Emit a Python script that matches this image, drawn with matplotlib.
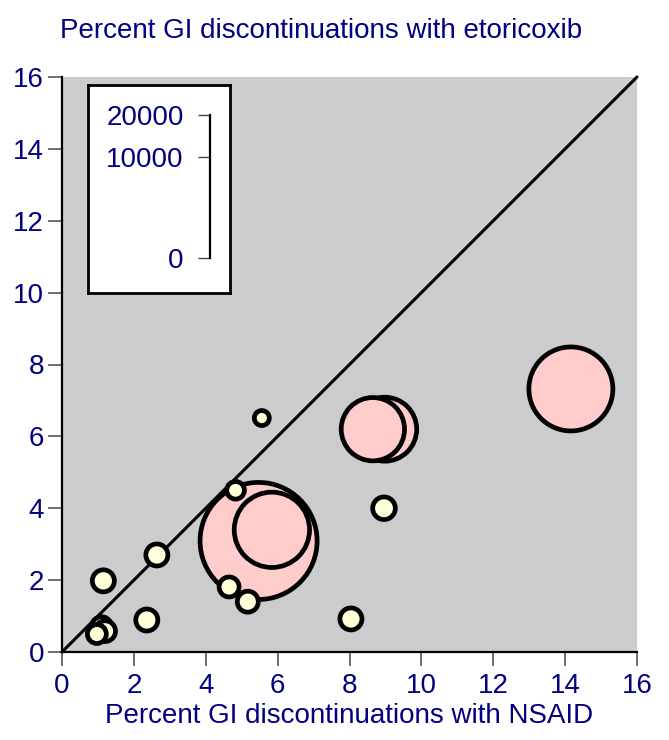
import numpy as np
import matplotlib
matplotlib.use("Agg")
import matplotlib.pyplot as plt
from matplotlib.patches import Circle

plt.rcParams['font.family'] = ['Liberation Sans', 'DejaVu Sans']

# trial data: % GI discontinuations (NSAID vs etoricoxib), patients per trial
nsaid = [5.47, 5.84, 8.98, 8.65, 14.16,
         5.56, 4.83, 4.65, 5.17, 8.96, 8.04, 2.64, 1.15, 2.36, 1.10, 1.20, 0.97]
etori = [3.09, 3.40, 6.20, 6.20, 7.32,
         6.51, 4.50, 1.81, 1.40, 4.00, 0.92, 2.70, 1.98, 0.89, 0.70, 0.58, 0.50]
patients = [13400, 5550, 4000, 3920, 6900,
            220, 305, 390, 430, 500, 475, 475, 475, 475, 400, 420, 350]
big_trial = [1, 1, 1, 1, 1, 0, 0, 0, 0, 0, 0, 0, 0, 0, 0, 0, 0]

legend_vals = [0, 10000, 20000]
ticks = [0, 2, 4, 6, 8, 10, 12, 14, 16]

navy = '#000080'
fs = 20
W, H = 669, 740
fig = plt.figure(figsize=(W / 100, H / 100), dpi=100)

# main axes in pixel placement
x0, x1, y0, y1 = 62, 637, 652, 77
ax = fig.add_axes([x0 / W, 1 - y0 / H, (x1 - x0) / W, (y0 - y1) / H])
ax.set_facecolor('#cccccc')
ax.set_xlim(0, 16)
ax.set_ylim(0, 16)
px_per_unit = (x1 - x0) / 16.0
px_per_sqrtn = 143.0 / np.sqrt(20000)   # legend scale: diameter in px per sqrt(N)

ax.plot([0, 16], [0, 16], color='black', lw=2.2, zorder=2, clip_on=False,
        solid_capstyle='round')

for x, y, n, big in zip(nsaid, etori, patients, big_trial):
    r = 0.5 * px_per_sqrtn * np.sqrt(n) / px_per_unit
    fc = '#ffcccc' if big else '#ffffd9'
    ax.add_patch(Circle((x, y), r, facecolor=fc, edgecolor='black', lw=3.4, zorder=3))

for s in ['top', 'right']:
    ax.spines[s].set_visible(False)
for s in ['left', 'bottom']:
    ax.spines[s].set_linewidth(1.6)
ax.set_xticks(ticks)
ax.set_yticks(ticks)
ax.tick_params(direction='out', length=10, width=1.2, color='#555555',
               labelcolor=navy, labelsize=fs)
ax.tick_params(axis='y', pad=3)
ax.tick_params(axis='x', pad=5)
ax.set_xlabel('Percent GI discontinuations with NSAID', color=navy, fontsize=fs, labelpad=3)
fig.text(60 / W, 1 - 31 / H, 'Percent GI discontinuations with etoricoxib',
         color=navy, fontsize=fs, ha='left', va='center')

# size legend box
bx0, bx1, by0, by1 = 88, 230, 293, 85
box = fig.add_axes([bx0 / W, 1 - by0 / H, (bx1 - bx0) / W, (by0 - by1) / H])
box.set_facecolor('white')
box.set_xticks([])
box.set_yticks([])
for s in box.spines.values():
    s.set_linewidth(2.0)
    s.set_color('black')

lx, ly0, ly1 = 210, 258, 115
lax = fig.add_axes([lx / W, 1 - ly0 / H, 10 / W, (ly0 - ly1) / H])
lax.patch.set_visible(False)
lax.set_ylim(0, np.sqrt(20000))
lax.set_xticks([])
lax.set_yticks(np.sqrt(legend_vals))
lax.set_yticklabels([str(v) for v in legend_vals])
for s in ['top', 'right', 'bottom']:
    lax.spines[s].set_visible(False)
lax.spines['left'].set_linewidth(1.6)
lax.tick_params(axis='y', direction='out', length=9, width=1.0, color='#444444',
                labelcolor=navy, labelsize=fs, pad=10)

fig.savefig('out.png', dpi=100)
